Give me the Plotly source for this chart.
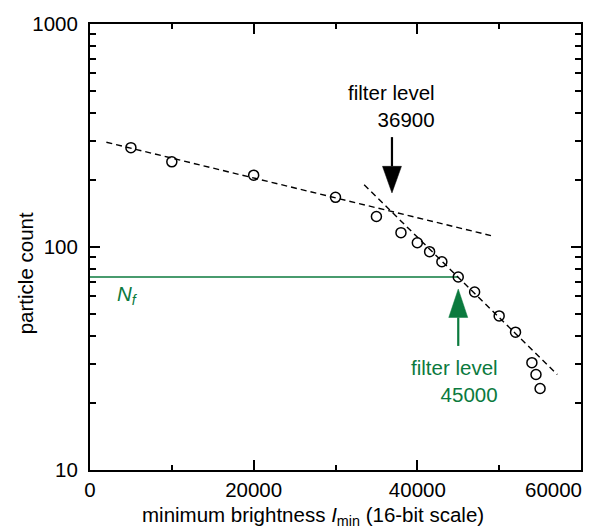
import numpy as np
import plotly.graph_objects as go

# ---- data ----
brightness = [5000, 10000, 20000, 30000, 35000, 38000, 40000, 41500, 43000,
              45000, 47000, 50000, 52000, 54000, 54500, 55000]
count = [279, 241, 210, 167, 137, 116, 104.5, 95.3, 85.9,
         73.4, 62.8, 49.1, 41.5, 30.3, 26.8, 23.2]

fit1_x = [2000, 49000]
fit1_y = [295, 112.5]
fit2_x = [33500, 57100]
fit2_y = [190, 26.8]

filter_black = 36900
filter_green = 45000
N_f = 73.4

# arrow extents (count units)
black_arrow = {"top": 311, "base": 230, "tip": 174.8}
green_arrow = {"bottom": 36.0, "base": 48.3, "tip": 64.8}
head_half = 1160

GREEN = "#0b7a3e"
FONT = "Liberation Sans, Arial, Helvetica, sans-serif"
FS = 20.5

fig = go.Figure()

# N_f horizontal line
fig.add_trace(go.Scatter(x=[0, filter_green], y=[N_f, N_f], mode="lines",
                         line=dict(color=GREEN, width=1.6), hoverinfo="skip"))

# dashed fits
for fx, fy in [(fit1_x, fit1_y), (fit2_x, fit2_y)]:
    fig.add_trace(go.Scatter(x=fx, y=fy, mode="lines",
                             line=dict(color="black", width=1.4, dash="6px,4px"),
                             hoverinfo="skip"))

# data points
fig.add_trace(go.Scatter(x=brightness, y=count, mode="markers",
                         marker=dict(symbol="circle-open", size=10,
                                     color="black", line=dict(width=1.5))))

# black arrow (pointing down)
fig.add_trace(go.Scatter(x=[filter_black, filter_black],
                         y=[black_arrow["top"], black_arrow["base"]],
                         mode="lines", line=dict(color="black", width=2.2),
                         hoverinfo="skip"))
fig.add_trace(go.Scatter(x=[filter_black - head_half, filter_black + head_half, filter_black, filter_black - head_half],
                         y=[black_arrow["base"], black_arrow["base"], black_arrow["tip"], black_arrow["base"]],
                         mode="lines", fill="toself", fillcolor="black",
                         line=dict(color="black", width=0.5), hoverinfo="skip"))

# green arrow (pointing up)
fig.add_trace(go.Scatter(x=[filter_green, filter_green],
                         y=[green_arrow["bottom"], green_arrow["base"]],
                         mode="lines", line=dict(color=GREEN, width=2.2),
                         hoverinfo="skip"))
fig.add_trace(go.Scatter(x=[filter_green - head_half, filter_green + head_half, filter_green, filter_green - head_half],
                         y=[green_arrow["base"], green_arrow["base"], green_arrow["tip"], green_arrow["base"]],
                         mode="lines", fill="toself", fillcolor=GREEN,
                         line=dict(color=GREEN, width=0.5), hoverinfo="skip"))

axis_common = dict(showline=True, linecolor="black", linewidth=2, mirror="ticks",
                   ticks="inside", ticklen=10, tickwidth=2, tickcolor="black",
                   showgrid=False, zeroline=False,
                   tickfont=dict(family=FONT, size=FS, color="black"))

fig.update_xaxes(range=[0, 60000], tickmode="array",
                 tickvals=[0, 20000, 40000, 60000],
                 ticktext=["0", "20000", "40000", ""],
                 minor=dict(tickmode="array", tickvals=[10000, 30000, 50000],
                            ticks="inside", ticklen=5, tickwidth=2, tickcolor="black"),
                 **axis_common)

minor_y = [m * d for d in (10, 100) for m in range(2, 10)]
fig.update_yaxes(type="log", range=[1, 3], tickmode="array",
                 tickvals=[10, 100, 1000], ticktext=["10", "100", "1000"],
                 minor=dict(tickmode="array", tickvals=minor_y,
                            ticks="inside", ticklen=6, tickwidth=2, tickcolor="black"),
                 ticklabelstandoff=6,
                 **axis_common)

ann = []
# 60000 label right-aligned to the axis end
ann.append(dict(x=60000, y=0, xref="x", yref="paper", text="60000",
                showarrow=False, xanchor="right", yanchor="top", xshift=3, yshift=-6,
                font=dict(family=FONT, size=FS, color="black")))
# axis titles
ann.append(dict(x=0.454, y=-0.104, xref="paper", yref="paper",
                text="minimum brightness <i>I</i><sub>min</sub> (16-bit scale)",
                showarrow=False, xanchor="center", yanchor="middle",
                font=dict(family=FONT, size=FS, color="black")))
ann.append(dict(x=-0.1324, y=0.441, xref="paper", yref="paper",
                text="particle count", textangle=-90,
                showarrow=False, xanchor="center", yanchor="middle",
                font=dict(family=FONT, size=FS, color="black")))
# filter level labels
ann.append(dict(x=42370, y=np.log10(427), xref="x", yref="y",
                text="filter level<br>36900", align="right",
                showarrow=False, xanchor="right", yanchor="middle",
                font=dict(family=FONT, size=FS, color="black")))
ann.append(dict(x=50060, y=np.log10(25.1), xref="x", yref="y",
                text="filter level<br>45000", align="right",
                showarrow=False, xanchor="right", yanchor="middle",
                font=dict(family=FONT, size=FS, color=GREEN)))
ann.append(dict(x=3050, y=np.log10(61), xref="x", yref="y",
                text="<i>N</i><sub><i>f</i></sub>",
                showarrow=False, xanchor="left", yanchor="middle",
                font=dict(family=FONT, size=FS, color=GREEN)))

fig.update_layout(width=595, height=531,
                  margin=dict(l=90, r=14, t=17, b=61),
                  paper_bgcolor="white", plot_bgcolor="white",
                  showlegend=False, annotations=ann,
                  font=dict(family=FONT, size=FS, color="black"))

fig.write_html("out.html")
